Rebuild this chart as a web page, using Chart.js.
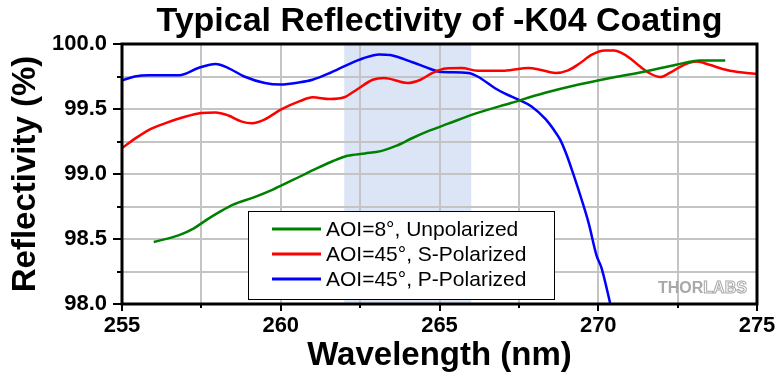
<!DOCTYPE html>
<html><head><meta charset="utf-8">
<script src="https://cdn.jsdelivr.net/npm/chart.js@4"></script>
<style>html,body{margin:0;padding:0;background:#fff}</style>
</head><body>
<canvas id="c" width="780" height="384"></canvas>
<script>
const titleText = 'Typical Reflectivity of -K04 Coating';
const xTitle = 'Wavelength (nm)';
const yTitle = 'Reflectivity (%)';
const seriesLabels = ['AOI=8°, Unpolarized', 'AOI=45°, S-Polarized', 'AOI=45°, P-Polarized'];
const seriesColors = ['#008000', '#ff0000', '#0000ff'];
const xTickLabels = [255, 260, 265, 270, 275];
const yTickLabels = [98.0, 98.5, 99.0, 99.5, 100.0];
const bandRange = [262, 266];
const logoText = ['THOR', 'LABS'];

const wlUnpol = [256.0,256.8,257.25,257.65,258.1,258.5,259.15,259.75,260.4,261.05,261.65,262.1,262.65,263.15,263.65,264.15,264.7,265.25,266.2,267.25,268.3,269.35,270.5,271.4,272.45,273.2,274.0];
const rUnpol  = [98.477,98.53,98.58,98.645,98.712,98.764,98.82,98.88,98.956,99.033,99.10,99.14,99.158,99.176,99.218,99.277,99.335,99.385,99.47,99.546,99.623,99.687,99.745,99.785,99.84,99.874,99.874];

const wlS = [255.0,255.4,255.85,256.35,256.9,257.5,257.95,258.35,258.75,259.1,259.5,260.0,260.6,261.0,261.55,262.0,262.4,262.9,263.25,264.0,264.4,264.8,265.2,265.7,266.2,267.05,267.8,268.2,268.65,269.05,269.4,269.8,270.2,270.5,270.7,271.0,271.3,271.6,271.95,272.25,272.7,273.1,273.5,274.05,274.55,275.0];
const rS  = [99.20,99.27,99.34,99.39,99.435,99.47,99.474,99.45,99.405,99.39,99.42,99.495,99.56,99.59,99.577,99.59,99.65,99.725,99.738,99.70,99.725,99.78,99.812,99.815,99.795,99.795,99.815,99.80,99.777,99.797,99.848,99.918,99.95,99.95,99.935,99.89,99.83,99.777,99.746,99.777,99.84,99.866,99.84,99.80,99.78,99.77];

const wlP = [255.0,255.4,255.85,256.8,257.4,257.95,258.35,258.85,259.5,260.0,260.6,261.0,261.55,262.1,262.6,263.1,263.45,264.15,264.7,265.0,265.9,266.2,266.75,267.05,267.55,267.9,268.35,268.6,268.8,269.0,269.2,269.48,269.7,269.95,270.1,270.4];
const rP  = [99.72,99.75,99.76,99.76,99.815,99.846,99.815,99.75,99.70,99.688,99.705,99.725,99.777,99.84,99.89,99.92,99.915,99.86,99.81,99.787,99.777,99.75,99.66,99.62,99.565,99.52,99.42,99.34,99.264,99.15,99.01,98.80,98.62,98.37,98.28,97.98];

const FONT = "'Liberation Sans', Arial, sans-serif";
const toPts = (xs, ys) => xs.map((x, i) => ({x: x, y: ys[i]}));

const decorPlugin = {
  id: 'decor',
  beforeDraw(chart) {
    const {ctx, chartArea: a, scales: {x, y}} = chart;
    ctx.save();
    ctx.fillStyle = '#ffffff';
    ctx.fillRect(0, 0, chart.width, chart.height);
    const x0 = x.getPixelForValue(bandRange[0]);
    const x1 = x.getPixelForValue(bandRange[1]);
    ctx.fillStyle = '#dbe5f6';
    ctx.fillRect(x0, a.top, x1 - x0, a.bottom - a.top);
    ctx.restore();
  },
  afterDatasetsDraw(chart) {
    const {ctx, chartArea: a, scales: {x, y}} = chart;
    ctx.save();
    ctx.strokeStyle = '#000';
    ctx.lineWidth = 3;
    ctx.strokeRect(a.left, a.top, a.right - a.left, a.bottom - a.top);
    ctx.lineWidth = 2;
    ctx.beginPath();
    y.ticks.forEach(t => {
      const py = Math.round(y.getPixelForValue(t.value));
      const major = yTickLabels.some(v => Math.abs(v - t.value) < 1e-6);
      const len = major ? 9 : 5;
      ctx.moveTo(a.left - len, py); ctx.lineTo(a.left, py);
    });
    x.ticks.forEach(t => {
      const px = Math.round(x.getPixelForValue(t.value));
      const major = xTickLabels.some(v => Math.abs(v - t.value) < 1e-6);
      const len = major ? 7 : 4;
      ctx.moveTo(px, a.bottom); ctx.lineTo(px, a.bottom + len);
    });
    ctx.stroke();
    ctx.restore();
  },
  afterDraw(chart) {
    const {ctx} = chart;
    ctx.save();
    const bx = 248, by = 211, bw = 306, bh = 88;
    ctx.fillStyle = '#fff';
    ctx.fillRect(bx, by, bw, bh);
    ctx.strokeStyle = '#000';
    ctx.lineWidth = 1;
    ctx.strokeRect(bx + 0.5, by + 0.5, bw, bh);
    ctx.font = '21px ' + FONT;
    ctx.textBaseline = 'middle';
    ctx.textAlign = 'left';
    chart.data.datasets.forEach((ds, i) => {
      const cy = 229 + i * 25;
      ctx.strokeStyle = ds.borderColor;
      ctx.lineWidth = 3;
      ctx.beginPath();
      ctx.moveTo(272, cy); ctx.lineTo(321, cy);
      ctx.stroke();
      ctx.fillStyle = '#000';
      ctx.fillText(ds.label, 326, cy + 1);
    });
    ctx.font = 'bold 16px ' + FONT;
    ctx.textBaseline = 'middle';
    ctx.fillStyle = '#a8a8a8';
    ctx.fillText(logoText[0], 658, 289);
    const w = ctx.measureText(logoText[0]).width;
    ctx.strokeStyle = '#a8a8a8';
    ctx.lineWidth = 1;
    ctx.strokeText(logoText[1], 658 + w, 289);
    ctx.restore();
  }
};

new Chart(document.getElementById('c'), {
  type: 'line',
  data: {
    datasets: [
      {label: seriesLabels[0], data: toPts(wlUnpol, rUnpol), borderColor: seriesColors[0]},
      {label: seriesLabels[1], data: toPts(wlS, rS), borderColor: seriesColors[1]},
      {label: seriesLabels[2], data: toPts(wlP, rP), borderColor: seriesColors[2]}
    ].map(d => Object.assign(d, {borderWidth: 2.5, pointRadius: 0, tension: 0.35, fill: false, cubicInterpolationMode: 'monotone'}))
  },
  options: {
    responsive: false,
    animation: false,
    devicePixelRatio: 1,
    layout: {padding: {left: 0, right: 23, top: 0, bottom: 0}},
    plugins: {
      legend: {display: false},
      tooltip: {enabled: false},
      title: {
        display: true, text: titleText, fullSize: false, color: '#000',
        font: {family: FONT, size: 34, weight: 'bold'},
        padding: {top: 1, bottom: 2.2}
      }
    },
    scales: {
      x: {
        type: 'linear', min: 255, max: 275,
        ticks: {
          stepSize: 2.5, autoSkip: false, maxRotation: 0, padding: 9, color: '#000',
          font: {family: FONT, size: 22, weight: 'bold'},
          callback: v => xTickLabels.some(t => Math.abs(t - v) < 1e-6) ? String(v) : ''
        },
        grid: {color: '#c4c4c4', lineWidth: 2, drawTicks: false},
        border: {display: false},
        title: {display: true, text: xTitle, color: '#000', font: {family: FONT, size: 33, weight: 'bold'}, padding: {top: 0, bottom: 8}},
        afterFit: s => { s.height = 80; s.paddingLeft = 0; s.paddingRight = 0; }
      },
      y: {
        type: 'linear', min: 98, max: 100,
        ticks: {
          stepSize: 0.25, autoSkip: false, padding: 15, color: '#000',
          font: {family: FONT, size: 22, weight: 'bold'},
          callback: v => yTickLabels.some(t => Math.abs(t - v) < 1e-6) ? v.toFixed(1) : ''
        },
        grid: {color: '#c4c4c4', lineWidth: 2, drawTicks: false},
        border: {display: false},
        title: {display: true, text: yTitle, color: '#000', font: {family: FONT, size: 33, weight: 'bold'}, padding: {top: 6, bottom: 0}},
        afterFit: s => { s.width = 122; s.paddingTop = 0; s.paddingBottom = 0; }
      }
    }
  },
  plugins: [decorPlugin]
});
</script>
</body></html>
